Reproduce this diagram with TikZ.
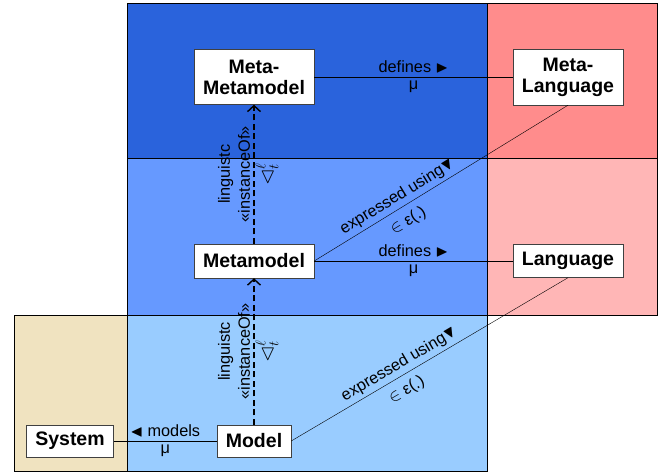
\documentclass[tikz,border=0pt]{standalone}
\usepackage{amsmath}
\usepackage{amssymb}
\usepackage{fontspec}
\setmainfont{Liberation Sans}
\usepackage{tikz}
\usetikzlibrary{arrows.meta}

\definecolor{metablue}{RGB}{42,99,220}
\definecolor{modelblue}{RGB}{102,153,255}
\definecolor{instblue}{RGB}{153,204,255}
\definecolor{metapink}{RGB}{255,140,140}
\definecolor{langpink}{RGB}{255,182,182}
\definecolor{systan}{RGB}{240,227,192}

\begin{document}
\begin{tikzpicture}[x=1pt, y=-1pt,
    box/.style={draw=black!75, fill=white, align=center, inner sep=0pt,
        font=\fontsize{19.5}{21}\selectfont\bfseries},
    lbl/.style={font=\fontsize{16.3}{20}\selectfont},
    sym/.style={font=\fontsize{21}{23}\selectfont, inner sep=1pt},
    band/.style={draw=black, line width=0.8pt},
    inst/.style={dash pattern=on 6pt off 3.5pt, line width=1.4pt,
        -{Straight Barb[length=6pt, width=13pt, line width=1.4pt]}}]
    \useasboundingbox (0,0) rectangle (669,475);
    \draw[band, fill=systan]    (14,315)  rectangle (127,471);
    \draw[band, fill=metablue]  (127,3)   rectangle (487,158);
    \draw[band, fill=modelblue] (127,158) rectangle (487,315);
    \draw[band, fill=instblue]  (127,315) rectangle (487,471);
    \draw[band, fill=metapink]  (487,3)   rectangle (657,158);
    \draw[band, fill=langpink]  (487,158) rectangle (657,315);

    \node[box, minimum width=120pt, minimum height=55pt] (mmm)   at (254,77)  {Meta-\\Metamodel};
    \node[box, minimum width=110pt, minimum height=56pt] (ml)    at (568,77)  {Meta-\\Language};
    \node[box, minimum width=120pt, minimum height=34pt] (mm)    at (254,261) {Metamodel};
    \node[box, minimum width=110pt, minimum height=33pt] (lang)  at (568,261) {Language};
    \node[box, minimum width=74pt,  minimum height=32pt] (model) at (254,441) {Model};
    \node[box, minimum width=87pt,  minimum height=32pt] (sys)   at (70,441)  {System};

    \draw (mmm) -- node[lbl, above] {defines $\blacktriangleright$}
                   node[lbl, below] {μ} (ml);
    \draw (mm)  -- node[lbl, above] {defines $\blacktriangleright$}
                   node[lbl, below] {μ} (lang);
    \draw (model) -- node[lbl, above] {$\blacktriangleleft$ models}
                     node[lbl, below] {μ} (sys);
    \draw (mm.east) -- node[lbl, pos=0.35, sloped, above] {expressed using$\blacktriangledown$}
                       node[lbl, pos=0.34, sloped, below=4pt] {$\in$ ε(.)} (ml.south);
    \draw (model.east) -- node[lbl, pos=0.41, sloped, above] {expressed using$\blacktriangledown$}
                          node[lbl, pos=0.39, sloped, below=4pt] {$\in$ ε(.)} (lang.south);
    \draw[inst] (model) -- node[lbl, sloped, above, align=center] {linguistc\\«instanceOf»}
                           node[sym, sloped, below] {$\vartriangleleft^{\ell}_{t}$} (mm);
    \draw[inst] (mm) -- node[lbl, sloped, above, align=center] {linguistc\\«instanceOf»}
                        node[sym, sloped, below] {$\vartriangleleft^{\ell}_{t}$} (mmm);
\end{tikzpicture}
\end{document}
